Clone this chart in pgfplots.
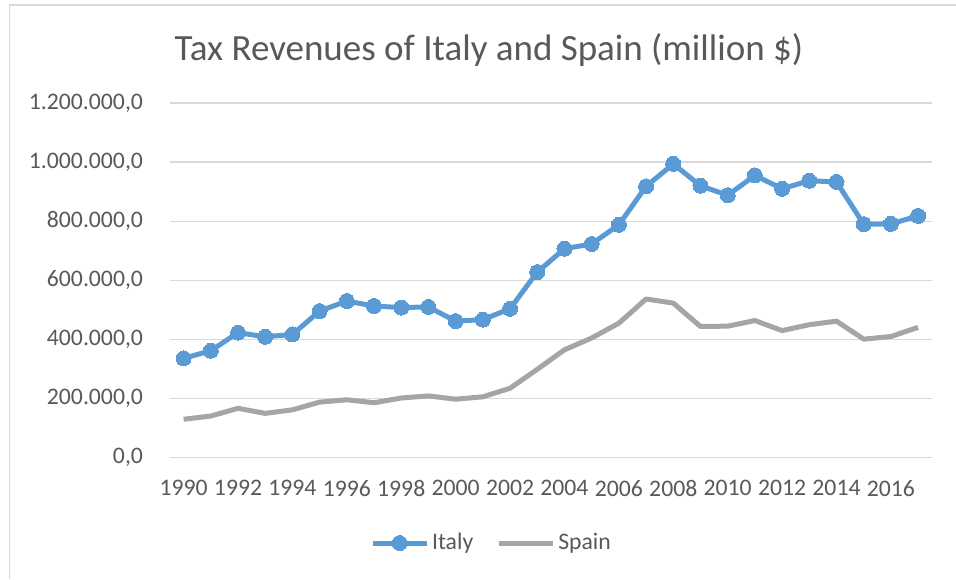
\documentclass[border=0pt]{standalone}
\usepackage{fontspec}
\setmainfont{Carlito}
\usepackage{pgfplots}
\pgfplotsset{compat=1.18}
\definecolor{itblue}{HTML}{5B9BD5}
\definecolor{spgray}{HTML}{A5A5A5}
\definecolor{txt}{HTML}{595959}
\definecolor{gridc}{HTML}{D9D9D9}
\begin{document}
\begin{tikzpicture}
\path[use as bounding box, fill=white] (0,0) rectangle (478pt,289.5pt);
\draw[gridc, line width=0.75pt] (4.75pt,0) -- (4.75pt,286.9pt) -- (478pt,286.9pt);
\node[text=txt, font=\fontsize{18.5}{22}\selectfont, anchor=center] at (244.5pt,264.5pt) {Tax Revenues of Italy and Spain (million \$)};
\begin{axis}[
  at={(85pt,60.65pt)}, anchor=south west,
  scale only axis, width=380.85pt, height=177.35pt,
  xmin=1989.5, xmax=2017.5, ymin=0, ymax=1200000,
  xtick={1990,1992,...,2016},
  ytick={0,200000,...,1200000},
  scaled y ticks=false,
  axis line style={draw=none},
  tick style={draw=none},
  ymajorgrids, grid style={gridc, line width=0.7pt},
  ticklabel style={text=txt, font=\fontsize{11.85}{14}\selectfont},
  /pgf/number format/assume math mode=true,
  xticklabel={\pgfmathprintnumber[fixed,1000 sep={}]{\tick}},
  yticklabel style={xshift=-10pt, /pgf/number format/fixed, /pgf/number format/precision=1, /pgf/number format/fixed zerofill, /pgf/number format/1000 sep={.}, /pgf/number format/use comma},
  xticklabel style={yshift=-7.7pt},
  legend style={at={(0.4227,-0.2405)}, anchor=center, draw=none, fill=none,
    legend columns=2, font=\fontsize{11.85}{14}\selectfont, text=txt,
    /tikz/every even column/.append style={column sep=10pt},
    nodes={inner xsep=1.5pt}},
  legend cell align=left,
  legend image code/.code={\draw[mark repeat=2,mark phase=2,#1] plot coordinates {(0pt,0pt) (13.5pt,0pt) (27pt,0pt)};},
]
\addplot[color=itblue, line width=2.5pt, line join=round, mark=*, mark size=3.75pt, mark options={solid, fill=itblue, draw=itblue, line width=0pt}] coordinates {
(1990,336000) (1991,362000) (1992,423000) (1993,409000) (1994,417000)
(1995,496000) (1996,530000) (1997,513000) (1998,508000) (1999,510000)
(2000,462000) (2001,467000) (2002,504000) (2003,628000) (2004,707000)
(2005,723000) (2006,788000) (2007,918000) (2008,994000) (2009,920000)
(2010,888000) (2011,955000) (2012,910000) (2013,937000) (2014,933000)
(2015,790000) (2016,791000) (2017,818000)
};
\addlegendentry{Italy}
\addplot[color=spgray, line width=2.5pt, line join=round, mark=none] coordinates {
(1990,130000) (1991,141000) (1992,167000) (1993,150000) (1994,162000)
(1995,188000) (1996,196000) (1997,186000) (1998,202000) (1999,209000)
(2000,198000) (2001,206000) (2002,235000) (2003,299000) (2004,365000)
(2005,405000) (2006,455000) (2007,537000) (2008,523000) (2009,444000)
(2010,445000) (2011,464000) (2012,430000) (2013,450000) (2014,462000)
(2015,401000) (2016,410000) (2017,441000)
};
\addlegendentry{Spain}
\end{axis}
\end{tikzpicture}
\end{document}
